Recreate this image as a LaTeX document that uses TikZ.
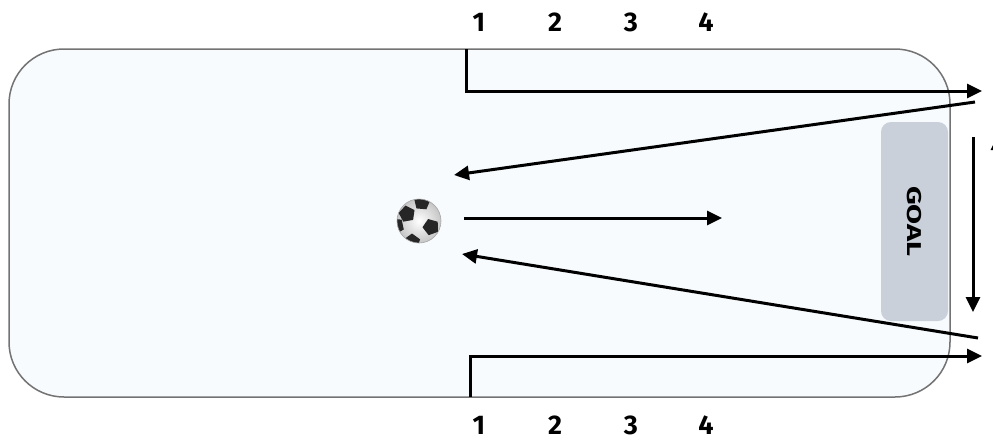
\documentclass[tikz,border=0pt]{standalone}
\usepackage{fontspec}
\setmainfont{Fira Sans}
\usetikzlibrary{arrows.meta, shapes.geometric}

\definecolor{fieldfill}{HTML}{F7FBFD}
\definecolor{goalfill}{HTML}{C9D0DA}

\tikzset{
  run/.style={line width=3pt, -{Triangle[length=15pt, width=14pt]}},
  num/.style={inner sep=0pt, font=\fontsize{27}{30}\selectfont\bfseries},
  patch/.style={regular polygon, regular polygon sides=5, fill=black!85, minimum size=17pt, inner sep=0pt},
}

\begin{document}
\begin{tikzpicture}[x=1pt, y=-1pt]
    \useasboundingbox (0,0) rectangle (993,442);

    % field and goal
    \fill [fieldfill, rounded corners=55pt] (9,49) rectangle (950,397);
    \node [fill=goalfill, rounded corners=10pt, minimum width=67pt, minimum height=199pt, inner sep=0pt] (goal) at (914.5,221.5) {};
    \node [rotate=-90, inner sep=0pt, font=\fontsize{20}{24}\selectfont\bfseries] (goaltext) at (goal) {\scalebox{1.45}[1]{GOAL}};
    \draw [draw=gray!90!black, line width=1.5pt, rounded corners=55pt] (9,49) rectangle (950,397);

    % ball
    \node [circle, minimum size=44pt, inner sep=0pt, inner color=white, outer color=gray!45] (ball) at (419,221) {};
    \begin{scope}
      \clip (ball.center) circle (22pt);
      \node [patch, rotate=10] (patch1) at (407,214) {};
      \node [patch, rotate=-5] (patch2) at (422,202) {};
      \node [patch, rotate=20] (patch3) at (431,227) {};
      \node [patch, rotate=0] (patch4) at (412,242) {};
      \node [patch, rotate=30] (patch5) at (396,226) {};
    \end{scope}
    \draw [gray!70, line width=0.6pt] (ball.center) circle (22pt);

    % lane numbers
    \node [num] (top1) at (479,22) {1};
    \node [num] (top2) at (555,22) {2};
    \node [num] (top3) at (631,22) {3};
    \node [num] (top4) at (706,22) {4};
    \node [num] (bot1) at (479,425) {1};
    \node [num] (bot2) at (555,425) {2};
    \node [num] (bot3) at (631,425) {3};
    \node [num] (bot4) at (706,425) {4};

    % runs
    \coordinate (ta) at (466,49);
    \coordinate (tb) at (466,91);
    \coordinate (tc) at (982,91);
    \coordinate (ba) at (470,397);
    \coordinate (bb) at (470,356);
    \coordinate (bc) at (982,356);
    \coordinate (da) at (975,102);
    \coordinate (db) at (454,175);
    \coordinate (ea) at (978,338);
    \coordinate (eb) at (462,254);
    \coordinate (ma) at (464,218);
    \coordinate (mb) at (722,218);
    \coordinate (va) at (973,137);
    \coordinate (vb) at (973,312);
    \coordinate (ua) at (998,300);
    \coordinate (ub) at (998,135);

    \draw [run] (ta) -- (tb) -- (tc);
    \draw [run] (ba) -- (bb) -- (bc);
    \draw [run] (da) -- (db);
    \draw [run] (ea) -- (eb);
    \draw [run] (ma) -- (mb);
    \draw [run] (va) -- (vb);
    \draw [run] (ua) -- (ub);
\end{tikzpicture}
\end{document}
